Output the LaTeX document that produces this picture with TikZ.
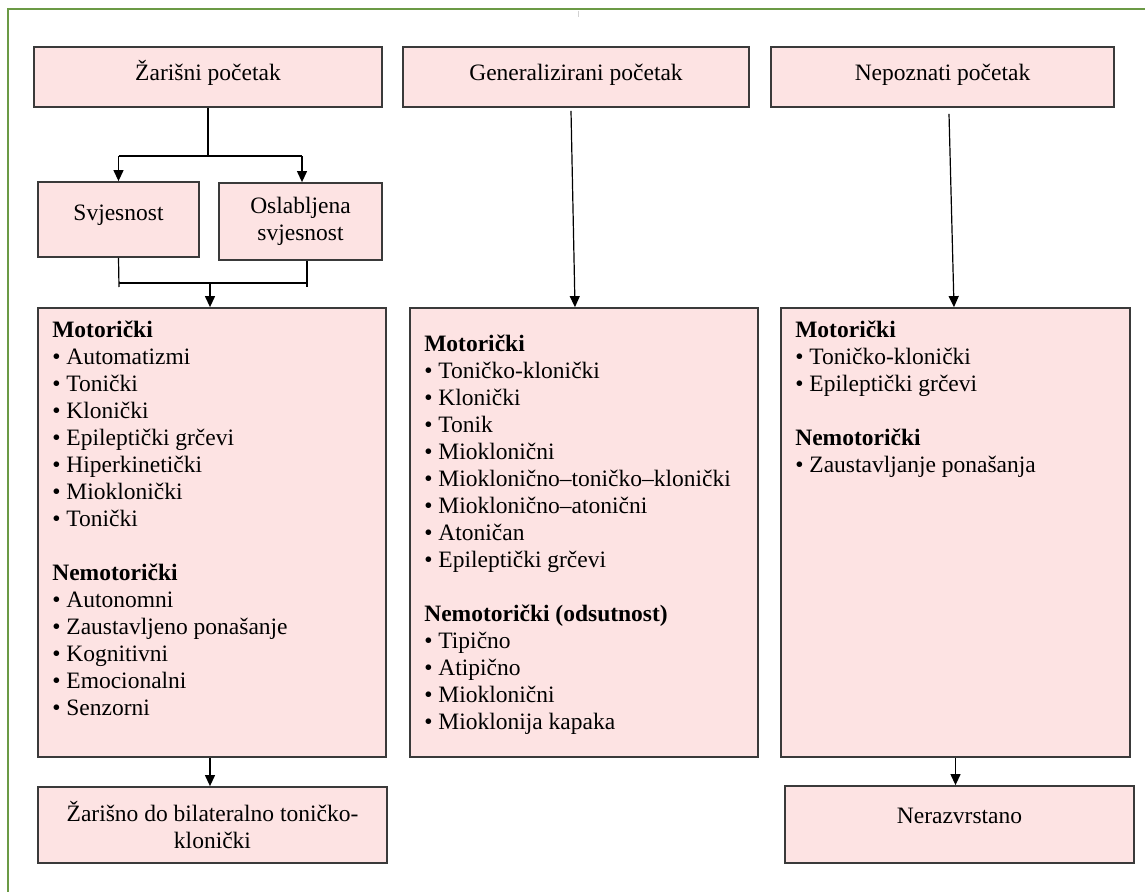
\documentclass[tikz,border=0pt]{standalone}
\usepackage{fontspec}
\setmainfont{Liberation Serif}
\usetikzlibrary{arrows.meta,calc}
\definecolor{boxpink}{HTML}{FDE3E3}
\definecolor{boxedge}{HTML}{3A3A3A}
\definecolor{framegreen}{HTML}{6B9A45}
\tikzset{
  box/.style={draw=boxedge, fill=boxpink, line width=1.8pt, align=center,
    inner sep=2pt, font=\fontsize{23.5}{27}\selectfont},
  headbox/.style={box, minimum height=60pt, text height=17pt, text depth=11pt},
  listtext/.style={align=left, inner sep=0pt, anchor=north west,
    font=\fontsize{23.5}{27}\selectfont},
  arr/.style={-{Triangle[length=11pt,width=10pt]}, line width=1.2pt},
  link/.style={line width=1.2pt}
}
\begin{document}
\begin{tikzpicture}[x=1pt,y=-1pt]
    \useasboundingbox (0,0) rectangle (1145,891);
    % frame
    \draw[framegreen, line width=2.4pt] (8,905) |- (1160,9);
    \draw[gray!35, line width=1pt] (578,11) -- (578,17);

    % top row
    \node[headbox, minimum width=348pt] (zar) at (208,77) {Žarišni početak};
    \node[headbox, minimum width=346pt] (gen) at (576,77) {Generalizirani početak};
    \node[headbox, minimum width=343pt] (nep) at (942.5,77) {Nepoznati početak};

    \node[box, minimum width=161pt, minimum height=75pt, text depth=13pt] (svj) at (118.5,219.5) {Svjesnost};
    \node[box, minimum width=163pt, minimum height=77pt] (osl) at (300.5,221.5) {Oslabljena\\svjesnost};

    % middle row
    \node[box, minimum width=348pt, minimum height=449pt] (lmid) at (212,532.5) {};
    \node[box, minimum width=348pt, minimum height=449pt] (gmid) at (584,532.5) {};
    \node[box, minimum width=349pt, minimum height=449pt] (rmid) at (955.5,532.5) {};

    \node[listtext] (ltxt) at ($(lmid.north west)+(15,14)$) {\textbf{Motorički}\\
      \textbullet\ Automatizmi\\ \textbullet\ Tonički\\ \textbullet\ Klonički\\
      \textbullet\ Epileptički grčevi\\ \textbullet\ Hiperkinetički\\
      \textbullet\ Mioklonički\\ \textbullet\ Tonički\\[27pt]
      \textbf{Nemotorički}\\ \textbullet\ Autonomni\\
      \textbullet\ Zaustavljeno ponašanje\\ \textbullet\ Kognitivni\\
      \textbullet\ Emocionalni\\ \textbullet\ Senzorni};
    \node[listtext] (gtxt) at ($(gmid.north west)+(15,28)$) {\textbf{Motorički}\\
      \textbullet\ Toničko-klonički\\ \textbullet\ Klonički\\ \textbullet\ Tonik\\
      \textbullet\ Mioklonični\\ \textbullet\ Mioklonično–toničko–klonički\\
      \textbullet\ Mioklonično–atonični\\ \textbullet\ Atoničan\\
      \textbullet\ Epileptički grčevi\\[27pt]
      \textbf{Nemotorički (odsutnost)}\\ \textbullet\ Tipično\\
      \textbullet\ Atipično\\ \textbullet\ Mioklonični\\ \textbullet\ Mioklonija kapaka};
    \node[listtext] (rtxt) at ($(rmid.north west)+(15,14)$) {\textbf{Motorički}\\
      \textbullet\ Toničko-klonički\\ \textbullet\ Epileptički grčevi\\[27pt]
      \textbf{Nemotorički}\\ \textbullet\ Zaustavljanje ponašanja};

    % bottom row
    \node[box, minimum width=349pt, minimum height=76pt] (lbot) at (212.5,825) {Žarišno do bilateralno toničko-\\klonički};
    \node[box, minimum width=349pt, minimum height=77pt, text depth=18pt] (rbot) at (959.5,824.5) {Nerazvrstano};

    % connectors
    \coordinate (splitL) at (118.5,156);
    \coordinate (splitR) at (302,156);
    \draw[link] (zar.south) -- (zar.south |- splitL);
    \draw[link] (splitL) -- (splitR);
    \draw[arr] (splitL) -- (svj.north);
    \draw[arr] (splitR) -- (splitR |- osl.north);

    \coordinate (joinL) at (119,287);
    \coordinate (joinR) at (307,287);
    \coordinate (joinM) at (210,283);
    \draw[link] (svj.south) -- (joinL);
    \draw[link] (osl.south -| joinR) -- (joinR);
    \draw[link] (joinL |- joinM) -- (joinR |- joinM);
    \draw[arr] (joinM) -- (joinM |- lmid.north);

    \draw[arr] ($(gen.south)+(-5,3)$) -- ($(gmid.north)+(-9,0)$);
    \draw[arr] ($(nep.south)+(6.5,6)$) -- ($(rmid.north)+(-1.5,0)$);

    \draw[arr] ($(lmid.south)+(-2,0)$) -- ($(lbot.north)+(-2.5,0)$);
    \draw[arr] (rmid.south) -- (rmid.south |- rbot.north);
\end{tikzpicture}
\end{document}
